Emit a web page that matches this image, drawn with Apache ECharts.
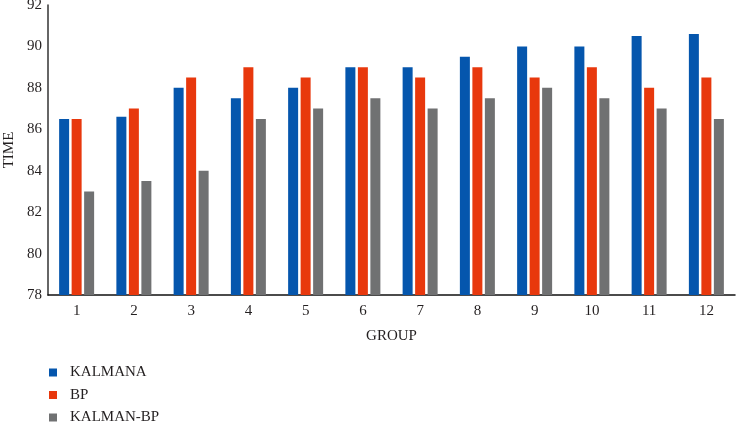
<!DOCTYPE html>
<html><head><meta charset="utf-8">
<script src="https://cdn.jsdelivr.net/npm/echarts@6/dist/echarts.min.js"></script>
<style>html,body{margin:0;padding:0;background:#fff}#c{width:736px;height:422px}</style>
</head><body><div id="c"></div>
<script>
const categories = ['1','2','3','4','5','6','7','8','9','10','11','12'];
const kalmana = [86.5, 86.6, 88, 87.5, 88, 89, 89, 89.5, 90, 90, 90.5, 90.6];
const bp = [86.5, 87, 88.5, 89, 88.5, 89, 88.5, 89, 88.5, 89, 88, 88.5];
const kalmanBp = [83, 83.5, 84, 86.5, 87, 87.5, 87, 87.5, 88, 87.5, 87, 86.5];
const seriesNames = ['KALMANA', 'BP', 'KALMAN-BP'];

const font = 'Liberation Serif';
const txt = '#231f20';
const chart = echarts.init(document.getElementById('c'), null, {renderer: 'canvas'});
chart.setOption({
  animation: false,
  color: ['#0556AD', '#E8380D', '#707172'],
  textStyle: {fontFamily: font},
  grid: {left: 48, right: 1, top: 5, bottom: 127, containLabel: false, outerBoundsMode: 'none'},
  legend: {
    orient: 'vertical', left: 44, top: 360, height: 90, icon: 'rect',
    itemWidth: 8, itemHeight: 8, itemGap: 7.5,
    textStyle: {fontFamily: font, fontSize: 15, color: txt, padding: [0,0,0,8]},
    data: seriesNames
  },
  xAxis: {
    type: 'category', data: categories,
    name: 'GROUP', nameLocation: 'middle', nameGap: 34,
    nameTextStyle: {fontFamily: font, fontSize: 15, color: txt},
    axisLine: {lineStyle: {color: '#111', width: 1.5}},
    axisTick: {show: false},
    axisLabel: {fontFamily: font, fontSize: 15, color: txt, margin: 9}
  },
  yAxis: {
    type: 'value', min: 78, max: 92, interval: 2,
    name: 'TIME', nameLocation: 'middle', nameGap: 28,
    nameTextStyle: {fontFamily: font, fontSize: 15, color: txt},
    axisLine: {show: true, lineStyle: {color: '#333', width: 1.5}},
    axisTick: {show: false},
    splitLine: {show: false},
    axisLabel: {fontFamily: font, fontSize: 15, color: txt, margin: 6}
  },
  series: [
    {name: seriesNames[0], type: 'bar', data: kalmana, barWidth: 10, barGap: '25%'},
    {name: seriesNames[1], type: 'bar', data: bp, barWidth: 10, barGap: '25%'},
    {name: seriesNames[2], type: 'bar', data: kalmanBp, barWidth: 10, barGap: '25%'}
  ]
});
</script></body></html>
